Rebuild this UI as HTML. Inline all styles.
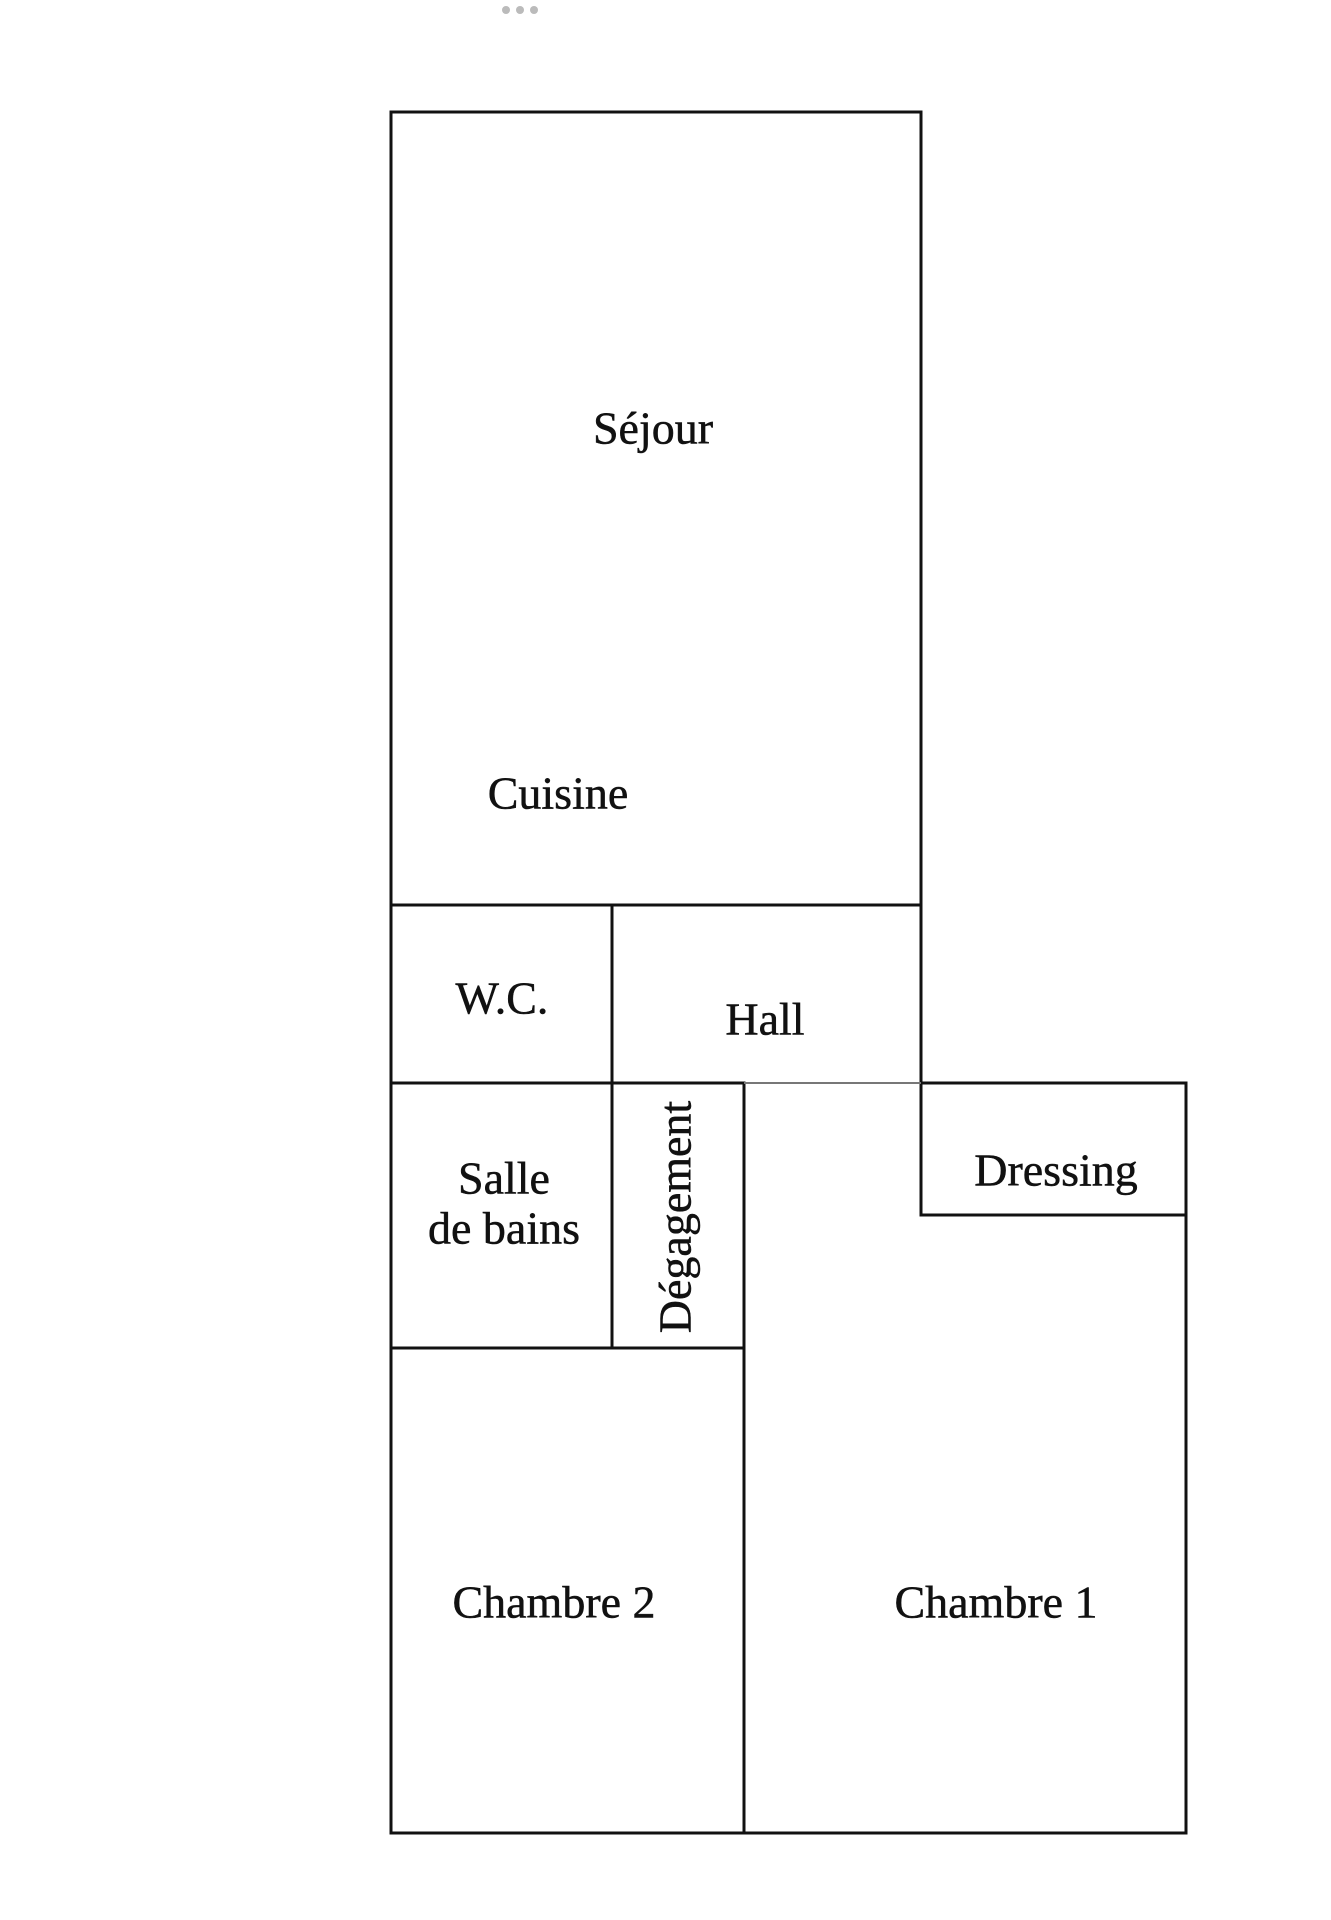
<!DOCTYPE html>
<html><head><meta charset="utf-8"><style>
html,body{margin:0;padding:0;background:#fff;}
svg{display:block;}
text{font-family:"Liberation Serif",serif;fill:#111;stroke:#111;stroke-width:0.5;font-size:46px;text-anchor:middle;dominant-baseline:central;}
</style></head><body>
<svg width="1331" height="1920" viewBox="0 0 1331 1920" xmlns="http://www.w3.org/2000/svg">
<g fill="#bbb"><circle cx="506" cy="10" r="4"/><circle cx="520" cy="10" r="4"/><circle cx="534" cy="10" r="4"/></g>
<g stroke="#111" stroke-width="3" fill="none" stroke-linecap="square">
<rect x="391" y="112" width="530" height="793"/>
<line x1="391" y1="905" x2="391" y2="1833"/>
<line x1="612" y1="905" x2="612" y2="1348"/>
<line x1="921" y1="905" x2="921" y2="1215"/>
<line x1="391" y1="1083" x2="612" y2="1083"/>
<line x1="612" y1="1083" x2="744" y2="1083"/>
<line x1="921" y1="1083" x2="1186" y2="1083"/>
<line x1="744" y1="1083" x2="744" y2="1833"/>
<line x1="1186" y1="1083" x2="1186" y2="1833"/>
<line x1="921" y1="1215" x2="1186" y2="1215"/>
<line x1="391" y1="1348" x2="744" y2="1348"/>
<line x1="391" y1="1833" x2="1186" y2="1833"/>
</g>
<line x1="744" y1="1083" x2="921" y2="1083" stroke="#777" stroke-width="2"/>
<text x="653" y="428">Séjour</text>
<text x="558" y="793">Cuisine</text>
<text x="502" y="998">W.C.</text>
<text x="765" y="1019">Hall</text>
<text x="504" y="1178">Salle</text>
<text x="504" y="1228">de bains</text>
<text x="675" y="1217" transform="rotate(-90 675 1217)">Dégagement</text>
<text x="1056" y="1170">Dressing</text>
<text x="554" y="1602">Chambre 2</text>
<text x="996" y="1602">Chambre 1</text>
</svg>
</body></html>
